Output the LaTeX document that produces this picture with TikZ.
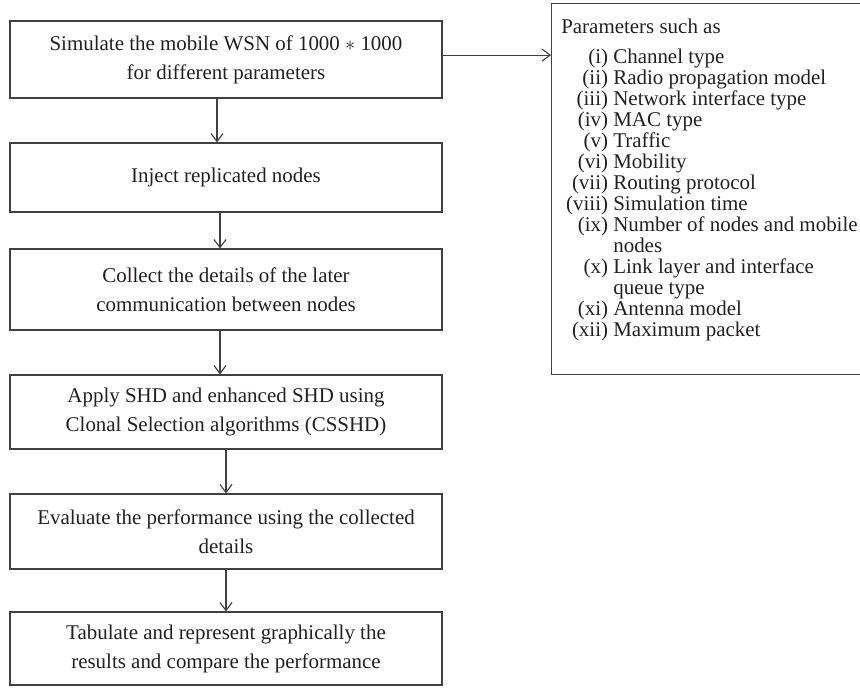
\documentclass[tikz,border=0pt]{standalone}
\usepackage{fontspec}
\setmainfont{Liberation Serif}
\usepackage{xcolor}
\definecolor{linegray}{RGB}{64,64,64}
\definecolor{textgray}{RGB}{35,31,32}
\usepackage{tikz}
\usetikzlibrary{
    arrows.meta,
    positioning
}

\newcommand{\plabel}[1]{\makebox[1.17cm][r]{#1}\ }

\begin{document}
\begin{tikzpicture}[
        stage/.style={rectangle, draw=linegray, line width=0.8pt, text=textgray, minimum width=10.8cm, minimum height=#1, align=center, font=\fontsize{14.9}{20.6}\selectfont},
        stage/.default=1.85cm,
        arr/.style={-{Straight Barb[length=2mm,width=3mm]}, line width=0.8pt, linegray}
    ]
        \useasboundingbox (0,0) rectangle (21.5,17.2);

        \node[stage=1.925cm] (simulate) at (5.65, 15.7125) {Simulate the mobile WSN of 1000 $\ast$ 1000\\for different parameters};
        \node[stage=1.725cm] (inject) at (5.65, 12.7625) {Inject replicated nodes};
        \node[stage=2.025cm] (collect) at (5.65, 9.9625) {Collect the details of the later\\communication between nodes};
        \node[stage=1.85cm] (apply) at (5.65, 6.9) {Apply SHD and enhanced SHD using\\Clonal Selection algorithms (CSSHD)};
        \node[stage=1.875cm] (evaluate) at (5.65, 3.9125) {Evaluate the performance using the collected\\details};
        \node[stage=1.825cm] (tabulate) at (5.65, 0.9875) {Tabulate and represent graphically the\\results and compare the performance};

        \node[rectangle, draw=linegray, line width=0.8pt, anchor=north west, minimum width=8cm, minimum height=9.275cm] (params) at (13.775, 17.125) {};
        \node[anchor=north west, inner sep=0pt, align=left, text=textgray, font=\fontsize{14.9}{14.9}\selectfont] (plist) at (14.025, 16.725) {Parameters such as\\[6.4pt]
            \plabel{(i)}Channel type\\
            \plabel{(ii)}Radio propagation model\\
            \plabel{(iii)}Network interface type\\
            \plabel{(iv)}MAC type\\
            \plabel{(v)}Traffic\\
            \plabel{(vi)}Mobility\\
            \plabel{(vii)}Routing protocol\\
            \plabel{(viii)}Simulation time\\
            \plabel{(ix)}Number of nodes and mobile\\
            \plabel{}nodes\\
            \plabel{(x)}Link layer and interface\\
            \plabel{}queue type\\
            \plabel{(xi)}Antenna model\\
            \plabel{(xii)}Maximum packet};

        \draw[arr] ([xshift=-2.25mm]simulate.south) -- ([xshift=-2.25mm]inject.north);
        \draw[arr] ([xshift=-1.5mm]inject.south) -- ([xshift=-1.5mm]collect.north);
        \draw[arr] ([xshift=-1.5mm]collect.south) -- ([xshift=-1.5mm]apply.north);
        \draw[arr] (apply) -- (evaluate);
        \draw[arr] (evaluate) -- (tabulate);
        \draw[arr] ([yshift=1.1mm]simulate.east) -- ([yshift=1.1mm]simulate.east -| params.west);
    \end{tikzpicture}
\end{document}
